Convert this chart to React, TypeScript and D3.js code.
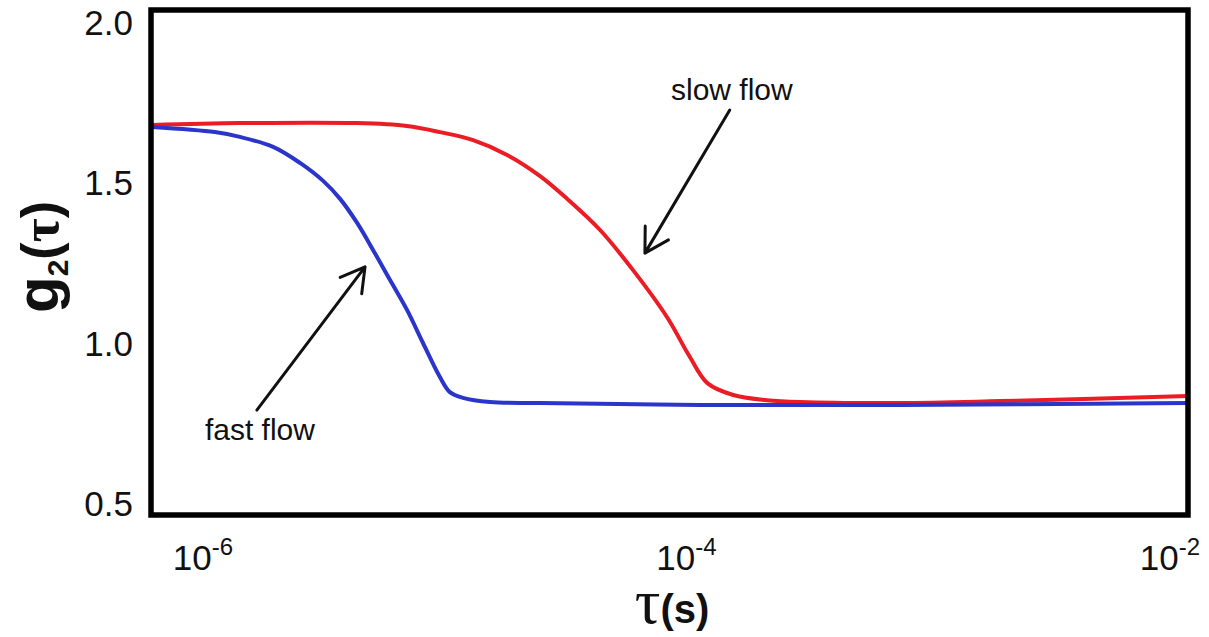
import React from "react";
import * as d3 from "d3";

// Correlation time τ (s) and intensity autocorrelation g2(τ)
const slowTau = [6.15e-7, 1.42e-6, 4.34e-6, 6.98e-6, 9.55e-6, 1.31e-5, 1.81e-5, 2.48e-5, 3.21e-5, 4.39e-5, 6.01e-5, 8.3e-5, 1.03e-4, 1.22e-4, 1.56e-4, 2.15e-4, 2.95e-4, 7.64e-4, 1.98e-3, 1.19e-2];
const slowG2 = [1.679, 1.685, 1.685, 1.676, 1.657, 1.632, 1.586, 1.52, 1.449, 1.352, 1.227, 1.081, 0.958, 0.875, 0.838, 0.822, 0.816, 0.813, 0.819, 0.835];

const fastTau = [6.15e-7, 1.12e-6, 1.42e-6, 1.95e-6, 2.52e-6, 3.14e-6, 3.69e-6, 4.34e-6, 5.05e-6, 5.94e-6, 6.98e-6, 8.13e-6, 9.55e-6, 1.05e-5, 1.19e-5, 1.54e-5, 2.48e-5, 1.14e-4, 7.64e-4, 1.19e-2];
const fastG2 = [1.673, 1.657, 1.642, 1.611, 1.561, 1.505, 1.449, 1.374, 1.29, 1.196, 1.103, 1.0, 0.894, 0.847, 0.829, 0.816, 0.813, 0.807, 0.807, 0.813];

const yTicks = [0.5, 1.0, 1.5, 2.0];
const xTickExponents = [-6, -4, -2];

// Annotation anchors in data units: [tau, g2]
const slowLabel = { text: "slow flow", at: [1.54e-4, 1.757], from: [1.51e-4, 1.726], to: [6.73e-5, 1.28] };
const fastLabel = { text: "fast flow", at: [1.72e-6, 0.698], from: [1.67e-6, 0.791], to: [4.68e-6, 1.237] };

const W = 1209;
const H = 637;
const frame = { left: 151, right: 1188, top: 10, bottom: 515 };

const x = d3.scaleLog().domain([1e-6, 1e-2]).range([203, 1170]);
const y = d3.scaleLinear().domain([0.5, 2.0]).range([503.5, 22]);

const line = d3
  .line<[number, number]>()
  .x((d) => x(d[0]))
  .y((d) => y(d[1]))
  .curve(d3.curveCatmullRom.alpha(0.5));

function arrowPath(from: number[], to: number[]) {
  const x1 = x(from[0]), y1 = y(from[1]);
  const x2 = x(to[0]), y2 = y(to[1]);
  const ang = Math.atan2(y1 - y2, x1 - x2);
  const len = 27;
  const spread = Math.PI / 6;
  const a1 = [x2 + len * Math.cos(ang + spread), y2 + len * Math.sin(ang + spread)];
  const a2 = [x2 + len * Math.cos(ang - spread), y2 + len * Math.sin(ang - spread)];
  return `M${x1},${y1}L${x2},${y2}M${a1[0]},${a1[1]}L${x2},${y2}L${a2[0]},${a2[1]}`;
}

export default function App() {
  const slow = slowTau.map((t, i) => [t, slowG2[i]] as [number, number]);
  const fast = fastTau.map((t, i) => [t, fastG2[i]] as [number, number]);
  const sans = "'Liberation Sans', Arial, sans-serif";
  const serif = "'Liberation Serif', 'DejaVu Serif', serif";

  return (
    <svg
      width={W}
      height={H}
      style={{ position: "absolute", left: 0, top: 0, background: "#fff" }}
      fontFamily={sans}
    >
      <defs>
        <clipPath id="plot">
          <rect x={frame.left} y={frame.top} width={frame.right - frame.left} height={frame.bottom - frame.top} />
        </clipPath>
      </defs>

      <g clipPath="url(#plot)" fill="none" strokeWidth={4} strokeLinejoin="round">
        <path d={line(slow) || ""} stroke="#ec1c24" />
        <path d={line(fast) || ""} stroke="#2b35c9" />
      </g>

      <rect
        x={frame.left}
        y={frame.top}
        width={frame.right - frame.left}
        height={frame.bottom - frame.top}
        fill="none"
        stroke="#000"
        strokeWidth={5.5}
      />

      {/* y tick labels */}
      {yTicks.map((v) => (
        <text key={v} x={133} y={y(v)} textAnchor="end" dominantBaseline="central" fontSize={35} fill="#111">
          {d3.format(".1f")(v)}
        </text>
      ))}

      {/* x tick labels as powers of ten */}
      {xTickExponents.map((e) => (
        <text key={e} x={x(Math.pow(10, e))} y={570} textAnchor="middle" fontSize={35} fill="#111">
          10
          <tspan fontSize={24} dy={-15}>
            {"-" + Math.abs(e)}
          </tspan>
        </text>
      ))}

      {/* axis titles */}
      <text x={672} y={623} textAnchor="middle" fontWeight="bold" fill="#111">
        <tspan fontFamily={serif} fontSize={64} fontWeight="normal">τ</tspan>
        <tspan fontSize={40}>(s)</tspan>
      </text>
      <text
        transform="translate(58,257) rotate(-90)"
        textAnchor="middle"
        fontWeight="bold"
        fill="#111"
      >
        <tspan fontSize={60}>g</tspan>
        <tspan fontSize={30} dy={10}>2</tspan>
        <tspan fontSize={52} dy={-10}>(</tspan>
        <tspan fontFamily={serif} fontSize={52}>τ</tspan>
        <tspan fontSize={52}>)</tspan>
      </text>

      {/* annotations */}
      {[slowLabel, fastLabel].map((a) => (
        <g key={a.text}>
          <text x={x(a.at[0])} y={y(a.at[1])} textAnchor="middle" fontSize={30} fill="#111">
            {a.text}
          </text>
          <path d={arrowPath(a.from, a.to)} fill="none" stroke="#111" strokeWidth={3} strokeLinecap="round" strokeLinejoin="round" />
        </g>
      ))}
    </svg>
  );
}
